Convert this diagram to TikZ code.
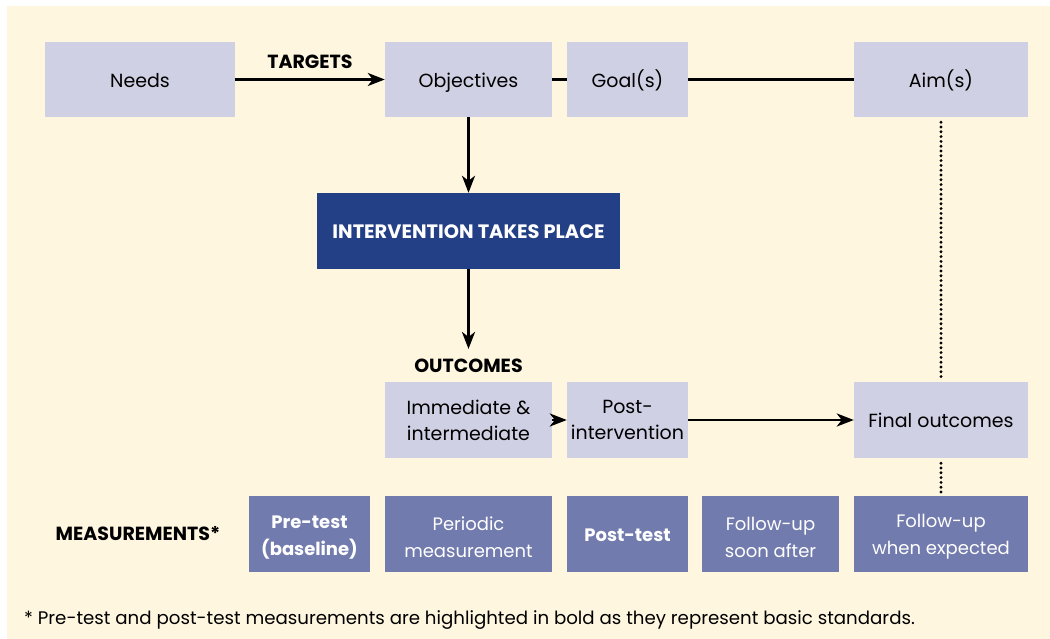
\documentclass[tikz,border=0pt]{standalone}
\usepackage{fontspec}
\setmainfont{Poppins}
\usetikzlibrary{arrows.meta}
\definecolor{cream}{HTML}{FEF6DF}
\definecolor{lightbox}{HTML}{CFD0E3}
\definecolor{darkbox}{HTML}{233F85}
\definecolor{measbox}{HTML}{727BAD}
\newcommand{\firstlift}{\rule{0pt}{19.5pt}}
\tikzset{
  lbox/.style={rectangle, fill=lightbox, inner sep=0pt, align=center, font=\fontsize{19}{26}\selectfont, text=black},
  dbox/.style={rectangle, fill=darkbox, inner sep=0pt, align=center, font=\fontsize{19.4}{24}\selectfont\bfseries, text=white},
  mbox/.style={rectangle, fill=measbox, inner sep=0pt, align=center, font=\fontsize{18}{27}\selectfont, text=white},
  oneline/.style={text height=15.5pt, text depth=0pt},
  boldlabel/.style={font=\fontsize{19}{24}\selectfont\bfseries, inner sep=0pt, text=black},
  arr/.style={line width=2.8pt, -{Stealth[length=17pt,width=13pt,inset=5pt]}},
  plainline/.style={line width=2.8pt},
  dotline/.style={line width=3.2pt, line cap=round, dash pattern=on 0pt off 4.8pt},
}
\begin{document}
\begin{tikzpicture}[x=1pt,y=-1pt]
\useasboundingbox (0,0) rectangle (1050,639);
\fill[white] (0,0) rectangle (1050,639);
\fill[cream] (7,6) rectangle (1050,639);
% top row
\node[lbox, oneline, minimum width=190pt, minimum height=75pt] (needs) at (140,79.5) {Needs};
\node[lbox, oneline, minimum width=167pt, minimum height=75pt] (obj) at (468.5,79.5) {Objectives};
\node[lbox, oneline, minimum width=121pt, minimum height=75pt] (goal) at (627.5,79.5) {Goal(s)};
\node[lbox, oneline, minimum width=174pt, minimum height=75pt] (aim) at (941,79.5) {Aim(s)};
% intervention
\node[dbox, oneline, minimum width=303pt, minimum height=76pt] (interv) at (468.5,231) {INTERVENTION TAKES PLACE};
% outcomes
\node[boldlabel] (outlabel) at (468.5,366) {OUTCOMES};
\node[lbox, minimum width=167pt, minimum height=76pt] (imm) at (468.5,420) {Immediate \&\\intermediate};
\node[lbox, minimum width=121pt, minimum height=76pt] (post) at (627.5,420) {Post-\\intervention};
\node[lbox, oneline, minimum width=174pt, minimum height=76pt] (final) at (941,420) {Final outcomes};
% measurements
\node[boldlabel] (measlabel) at (138,534) {MEASUREMENTS*};
\node[mbox, minimum width=121pt, minimum height=76pt] (pre) at (309.5,534) {\firstlift\bfseries Pre-test\\\bfseries (baseline)};
\node[mbox, minimum width=167pt, minimum height=76pt] (periodic) at (468.5,534) {\firstlift Periodic\\measurement};
\node[mbox, oneline, minimum width=121pt, minimum height=76pt] (posttest) at (627.5,534) {\bfseries Post-test};
\node[mbox, minimum width=137pt, minimum height=76pt] (soon) at (770.5,534) {\firstlift Follow-up\\soon after};
\node[mbox, minimum width=174pt, minimum height=76pt] (expected) at (941,534) {\firstlift Follow-up\\when expected};
% footnote
\node[anchor=west, inner sep=0pt, font=\fontsize{18.2}{22}\selectfont] (foot) at (24,620) {* Pre-test and post-test measurements are highlighted in bold as they represent basic standards.};
% connectors
\draw[arr] (needs.east) -- node[boldlabel, above=9pt] (targets) {TARGETS} (obj.west);
\draw[plainline] (obj.east) -- (goal.west);
\draw[plainline] (goal.east) -- (aim.west);
\draw[arr] (obj.south) -- (interv.north);
\draw[arr] (interv.south) -- ([yshift=10pt]outlabel.north);
\draw[arr] (imm.east) -- (post.west);
\draw[arr] (post.east) -- (final.west);
\draw[dotline] ([yshift=-5pt]aim.south) -- ([yshift=2pt]final.north);
\draw[dotline] ([yshift=-5pt]final.south) -- ([yshift=2pt]expected.north);
\end{tikzpicture}
\end{document}
